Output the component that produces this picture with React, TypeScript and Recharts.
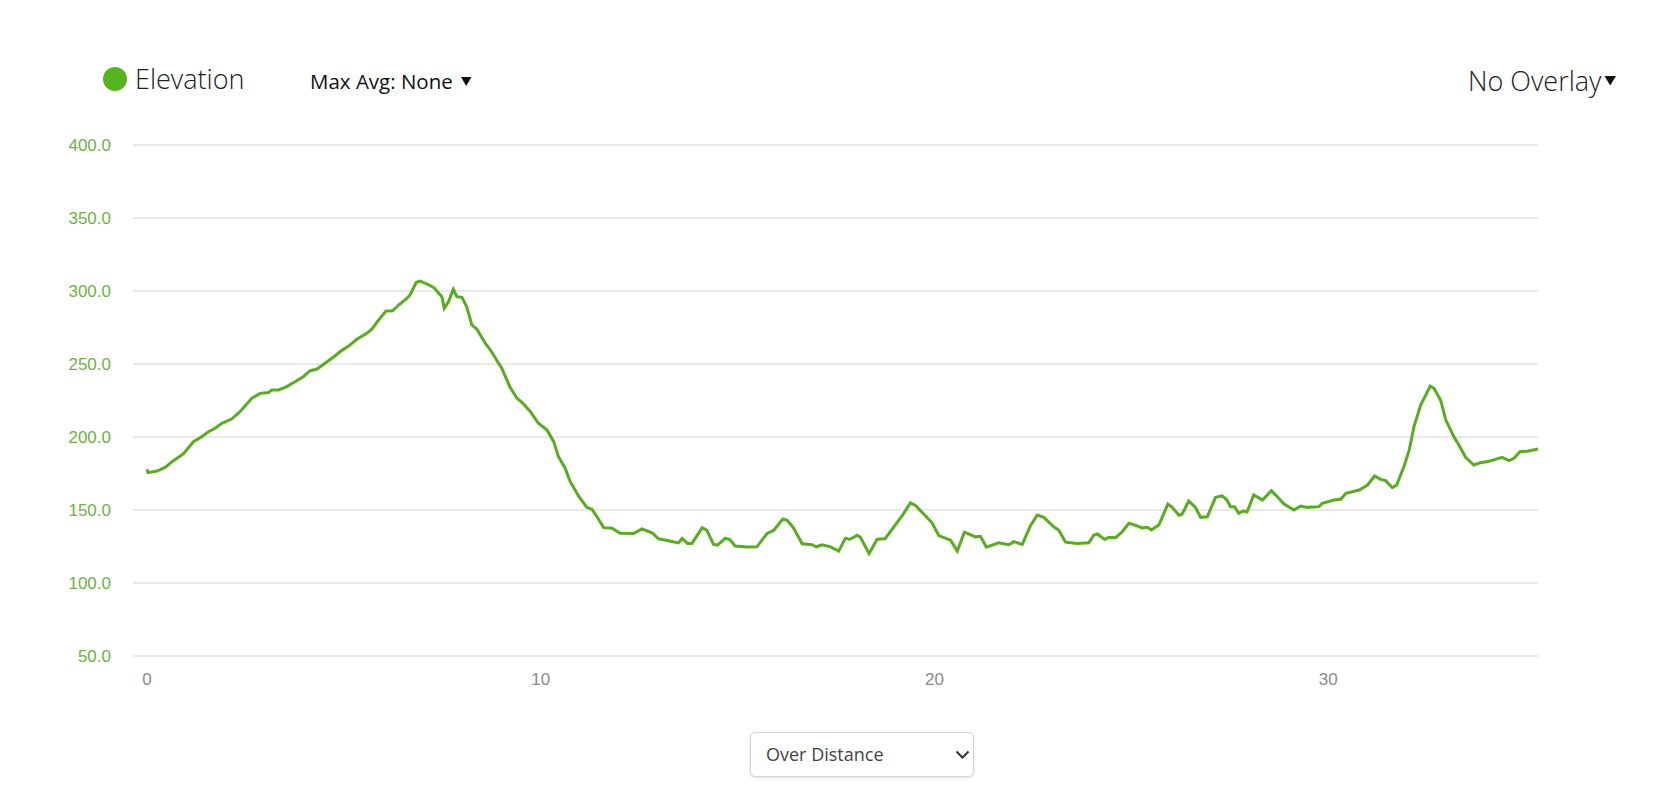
import { LineChart, Line, XAxis, YAxis, CartesianGrid } from "recharts"

// distance along the route (km)
const distanceKm = [
  0, 0.03, 0.25, 0.46, 0.67, 0.92, 1.18, 1.39, 1.56, 1.73, 1.9, 2.15, 2.36, 2.66, 2.87, 3.08, 3.17, 3.34, 3.55, 3.76,
  3.97, 4.14, 4.31, 4.52, 4.73, 4.9, 5.12, 5.33, 5.58, 5.71, 5.88, 6.07, 6.24, 6.39, 6.6, 6.68, 6.84, 6.94, 7.11, 7.28,
  7.4, 7.49, 7.55, 7.66, 7.78, 7.87, 8.0, 8.12, 8.25, 8.38, 8.59, 8.71, 9.01, 9.22, 9.4, 9.53, 9.74, 9.94, 10.16, 10.33,
  10.45, 10.62, 10.75, 10.96, 11.17, 11.3, 11.43, 11.6, 11.81, 12.02, 12.36, 12.57, 12.83, 12.99, 13.21, 13.5, 13.59, 13.73, 13.84, 14.1,
  14.22, 14.39, 14.49, 14.69, 14.8, 14.94, 15.24, 15.49, 15.75, 15.92, 16.15, 16.26, 16.42, 16.64, 16.89, 17.0, 17.15, 17.36, 17.57, 17.74,
  17.85, 18.04, 18.12, 18.34, 18.54, 18.75, 18.97, 19.18, 19.39, 19.52, 19.77, 19.94, 20.11, 20.41, 20.58, 20.76, 20.91, 21.04, 21.17, 21.32,
  21.63, 21.89, 22.02, 22.23, 22.44, 22.61, 22.78, 23.03, 23.16, 23.33, 23.63, 23.92, 24.05, 24.14, 24.32, 24.43, 24.6, 24.77, 24.94, 25.11,
  25.28, 25.41, 25.51, 25.7, 25.93, 26.04, 26.21, 26.29, 26.46, 26.63, 26.76, 26.93, 27.14, 27.31, 27.43, 27.52, 27.62, 27.73, 27.84, 27.94,
  28.11, 28.33, 28.56, 28.71, 28.88, 29.13, 29.3, 29.47, 29.77, 29.85, 30.15, 30.32, 30.45, 30.79, 31.0, 31.18, 31.33, 31.46, 31.63, 31.74,
  31.93, 32.06, 32.18, 32.35, 32.48, 32.59, 32.69, 32.86, 32.99, 33.2, 33.32, 33.49, 33.7, 33.87, 34.08, 34.25, 34.42, 34.59, 34.72, 34.87,
  35.06, 35.33,
]

// elevation (m)
const elevationM = [
  177.9, 175.6, 176.7, 179.2, 183.8, 188.4, 196.8, 200.2, 203.6, 206, 209.4, 212.3, 217.3, 226.5, 229.9, 230.4, 232.2, 232.2, 234.5, 237.9,
  241.3, 245.4, 246.4, 250.5, 254.6, 258.4, 262.3, 266.9, 271, 273.8, 280.1, 286.3, 286.5, 290.4, 295, 297.3, 306, 306.8, 304.8, 302.5,
  298.8, 296.1, 288.1, 292.7, 301.2, 296.1, 295.7, 289.2, 276.7, 273.8, 264.2, 260.1, 247.1, 234.1, 226.5, 223.5, 217.3, 209.4, 204.8, 196.8,
  186.5, 178.6, 169.4, 159.6, 151.8, 150.5, 145.4, 137.9, 137.5, 134.1, 133.9, 137.1, 134.4, 130.3, 129.1, 127.5, 130.5, 127.1, 127.1, 137.8,
  136.1, 126.4, 126, 130.7, 129.8, 125.3, 124.6, 124.8, 133.9, 136.1, 143.9, 143, 137.8, 126.9, 126.2, 124.8, 126.2, 124.8, 121.9, 130.7,
  129.8, 132.7, 131.3, 120.1, 129.8, 130.5, 138.5, 146.1, 154.8, 153.1, 146.1, 141.2, 132.5, 129.3, 121.9, 134.8, 133.2, 131.6, 132, 124.6,
  127.5, 126.2, 128.3, 126.4, 139.3, 146.6, 145, 138.5, 136.1, 128, 127.1, 127.6, 132.9, 133.6, 129.9, 131.3, 131, 135.1, 140.9, 139.5,
  137.7, 138.1, 136.3, 139.7, 154.1, 151.8, 146.4, 147.1, 156.2, 151.8, 145, 145.4, 158.7, 159.6, 156.8, 152.3, 152.3, 147.7, 149.3, 148.6,
  160.3, 156.8, 163.2, 159.1, 154.1, 150, 152.7, 151.8, 152.3, 154.6, 156.8, 157.3, 161.4, 163.7, 167.1, 173.3, 171, 170.1, 165.3, 167.1,
  180.1, 191.1, 207.1, 221.9, 228.8, 234.9, 233.3, 224.9, 211.6, 199.8, 194.5, 186.1, 180.8, 182.4, 183.4, 184.7, 186.1, 183.8, 185.4, 189.9,
  190.3, 191.8,
]

const xTicks = [0, 10, 20, 30]
const yTicks = [50, 100, 150, 200, 250, 300, 350, 400]

const data = distanceKm.map((d, i) => ({ d, elev: elevationM[i] }))

const GREEN = "#56ae1c"
const openSans = "'Open Sans', sans-serif"

export default function App() {
  return (
    <div style={{ position: "absolute", left: 0, top: 0, width: 1655, height: 811, background: "#fff" }}>
      <LineChart
        width={1655}
        height={811}
        data={data}
        margin={{ top: 145, right: 117, bottom: 125, left: 0 }}
      >
        <CartesianGrid vertical={false} stroke="#e2e2e2" strokeWidth={1.5} />
        <XAxis
          dataKey="d"
          type="number"
          domain={[0, 35.33]}
          ticks={xTicks}
          padding={{ left: 14, right: 0 }}
          axisLine={false}
          tickLine={false}
          tickSize={0}
          tickMargin={17}
          height={30}
          tick={{ fill: "#8a8a8a", fontSize: 17, fontFamily: "'Liberation Sans', Arial, sans-serif" }}
        />
        <YAxis
          domain={[50, 400]}
          ticks={yTicks}
          width={133}
          axisLine={false}
          tickLine={false}
          tickSize={0}
          tickMargin={22}
          tickFormatter={(v: number) => v.toFixed(1)}
          tick={{ fill: "#6cb33f", fontSize: 17, fontFamily: "'Liberation Sans', Arial, sans-serif" }}
        />
        <Line
          type="linear"
          dataKey="elev"
          stroke={GREEN}
          strokeWidth={3}
          dot={false}
          isAnimationActive={false}
        />
      </LineChart>

      <svg
        width={1655}
        height={120}
        style={{ position: "absolute", left: 0, top: 0, pointerEvents: "none" }}
      >
        <circle cx={115} cy={79} r={12} fill="#58b41e" />
        <text x={135} y={89} fontFamily={openSans} fontSize={27} fontWeight={300} fill="#222">
          Elevation
        </text>
        <text x={310} y={89} fontFamily={openSans} fontSize={20.5} fill="#111">
          Max Avg: None
        </text>
        <polygon points="461,77 471.5,77 466.2,86" fill="#111" />
        <text x={1468} y={91} fontFamily={openSans} fontSize={27} fontWeight={300} fill="#222">
          No Overlay
        </text>
        <polygon points="1604.5,76 1616,76 1610.2,85.5" fill="#111" />
      </svg>

      <div
        style={{
          position: "absolute",
          left: 750,
          top: 732,
          width: 224,
          height: 45,
          boxSizing: "border-box",
          border: "1px solid #d6d6d6",
          borderRadius: 5,
          boxShadow: "0 1px 3px rgba(0,0,0,0.12)",
          background: "#fff",
          fontFamily: openSans,
          fontSize: 18,
          color: "#444",
          lineHeight: "43px",
          paddingLeft: 15,
        }}
      >
        Over Distance
        <svg width={16} height={10} style={{ position: "absolute", left: 204, top: 17 }}>
          <polyline points="1.5,1.5 7.5,7.5 13.5,1.5" fill="none" stroke="#333" strokeWidth={2} />
        </svg>
      </div>
    </div>
  )
}
